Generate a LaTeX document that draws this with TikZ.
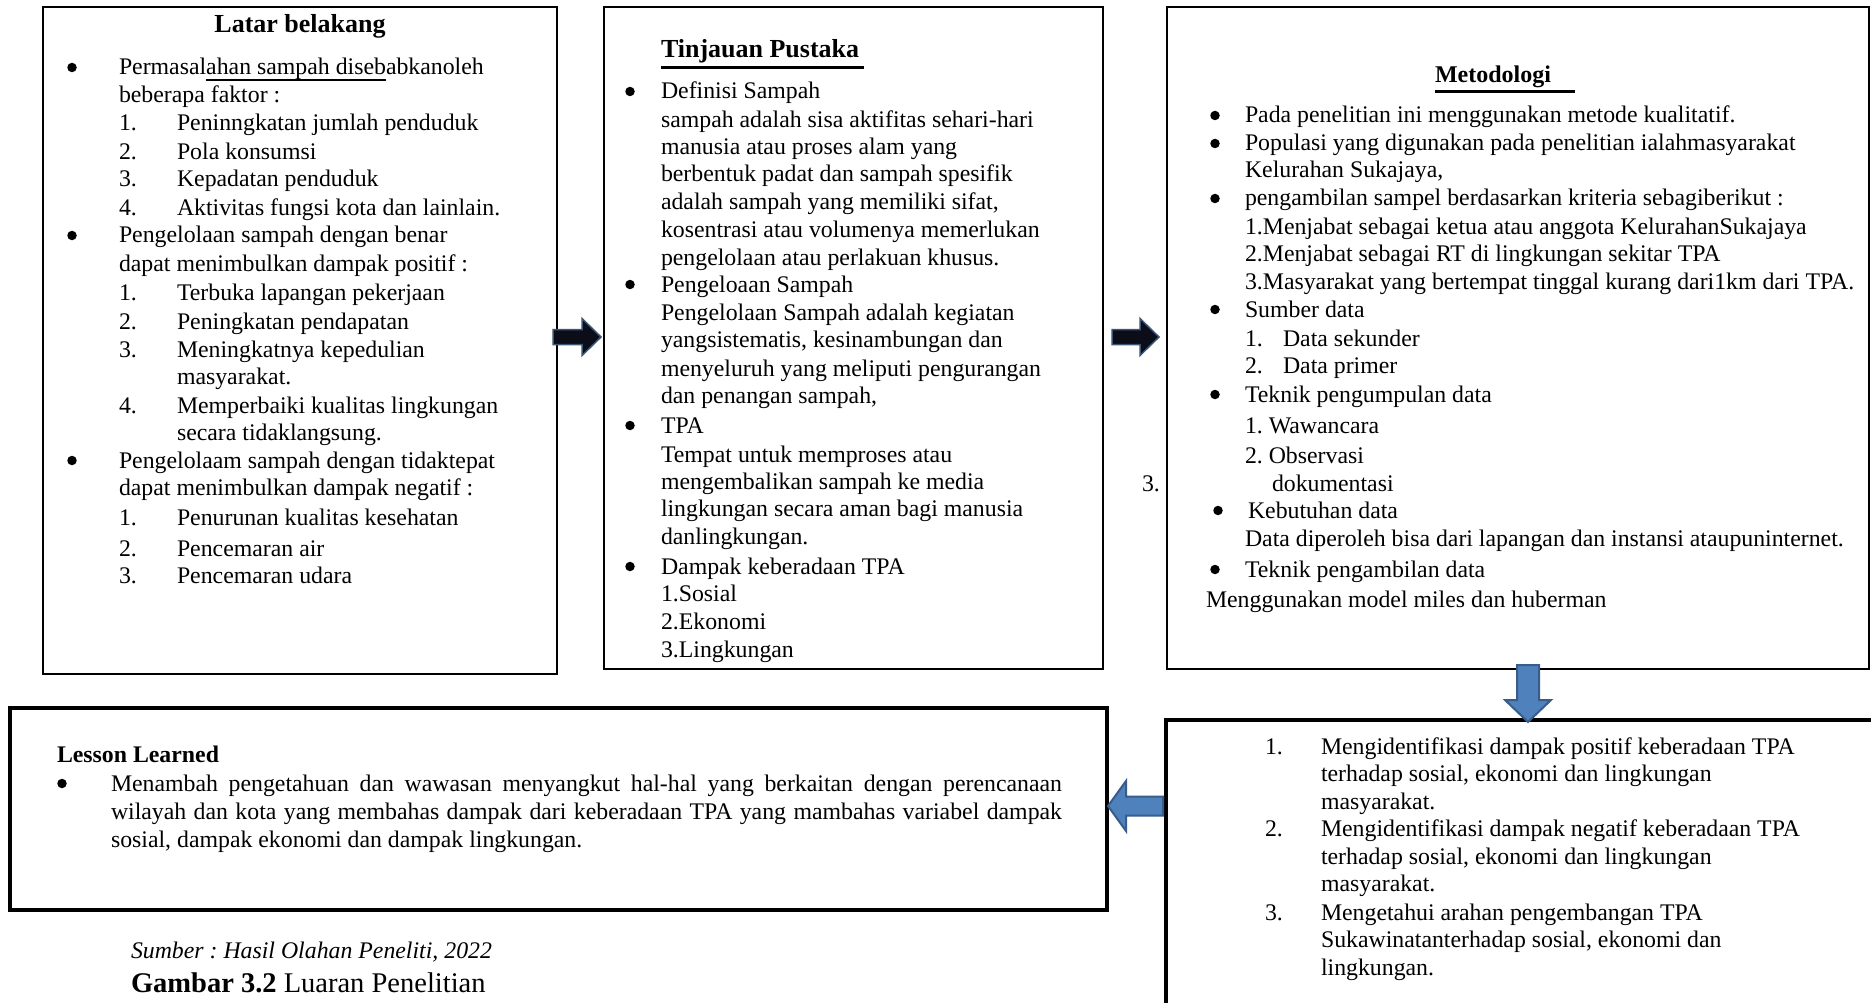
\documentclass[tikz,border=0pt]{standalone}
\usepackage{fontspec}
\setmainfont{Liberation Serif}
\usetikzlibrary{calc}
\definecolor{arrblue}{HTML}{4F81BD}
\definecolor{arrblueline}{HTML}{385D8A}
\definecolor{arrdark}{HTML}{0B0D18}
\definecolor{arrdarkline}{HTML}{3C5573}
\newcommand\ulx[1]{\setbox0\hbox{#1}\rlap{\rule[-6.25pt]{\wd0}{2.5pt}}\box0}
\newcommand\tline[4]{\node[txt] (#1) at (#2,#3) {#4};}
\newcommand\tbul[3]{\node[bul] (#1) at (#2,{#3-7.5}) {};}
\frenchspacing
\begin{document}
\begin{tikzpicture}[x=1pt,y=-1pt,
  txt/.style={anchor=base west, inner sep=0pt, outer sep=0pt, font=\fontsize{23.8pt}{28pt}\selectfont},
  ttl/.style={inner sep=0pt, outer sep=0pt, font=\fontsize{26pt}{30pt}\selectfont\bfseries},
  bul/.style={circle, fill=black, inner sep=0pt, minimum size=9.5pt},
  box/.style={draw=black, line width=2pt, anchor=north west, inner sep=0pt, outer sep=0pt},
  thickbox/.style={box, line width=4.5pt},
  darkarr/.style={fill=arrdark, draw=arrdarkline, line width=1.5pt},
  bluearr/.style={fill=arrblue, draw=arrblueline, line width=2pt},
  ulline/.style={line width=3pt}]
\useasboundingbox (0,0) rectangle (1871,1003);
\fill[white] (0,0) rectangle (1871,1003);

% boxes
\node[box, minimum width=514pt, minimum height=667pt] (b1) at (43,7) {};
\node[box, minimum width=499pt, minimum height=662pt] (b2) at (604,7) {};
\node[box, minimum width=702pt, minimum height=662pt] (b3) at (1167,7) {};
\node[thickbox, minimum width=1097pt, minimum height=202pt] (b4) at (10,708) {};
\node[thickbox, minimum width=724pt, minimum height=320pt] (b5) at (1166,720) {};

% ---------- Box 1: Latar belakang
\node[ttl, anchor=base] (t1) at (300,32.5) {Latar belakang};
\tbul{b1u1}{72}{75}
\tline{b1l1}{119}{75}{Permasal\ulx{ahan sampah diseb}abkanoleh}
\tline{b1l2}{119}{102.5}{beberapa faktor :}
\tline{b1n3}{119}{131}{1.}\tline{b1l3}{177}{131}{Peninngkatan jumlah penduduk}
\tline{b1n4}{119}{160}{2.}\tline{b1l4}{177}{160}{Pola konsumsi}
\tline{b1n5}{119}{187}{3.}\tline{b1l5}{177}{187}{Kepadatan penduduk}
\tline{b1n6}{119}{215}{4.}\tline{b1l6}{177}{215}{Aktivitas fungsi kota dan lainlain.}
\tbul{b1u7}{72}{243}
\tline{b1l7}{119}{243}{Pengelolaan sampah dengan benar}
\tline{b1l8}{119}{271}{dapat menimbulkan dampak positif :}
\tline{b1n9}{119}{300.5}{1.}\tline{b1l9}{177}{300.5}{Terbuka lapangan pekerjaan}
\tline{b1n10}{119}{329}{2.}\tline{b1l10}{177}{329}{Peningkatan pendapatan}
\tline{b1n11}{119}{357}{3.}\tline{b1l11}{177}{357}{Meningkatnya kepedulian}
\tline{b1l12}{177}{384}{masyarakat.}
\tline{b1n13}{119}{413}{4.}\tline{b1l13}{177}{413}{Memperbaiki kualitas lingkungan}
\tline{b1l14}{177}{440}{secara tidaklangsung.}
\tbul{b1u15}{72}{468}
\tline{b1l15}{119}{468}{Pengelolaam sampah dengan tidaktepat}
\tline{b1l16}{119}{495}{dapat menimbulkan dampak negatif :}
\tline{b1n17}{119}{525}{1.}\tline{b1l17}{177}{525}{Penurunan kualitas kesehatan}
\tline{b1n18}{119}{556}{2.}\tline{b1l18}{177}{556}{Pencemaran air}
\tline{b1n19}{119}{583}{3.}\tline{b1l19}{177}{583}{Pencemaran udara}

% ---------- Box 2: Tinjauan Pustaka
\node[ttl, anchor=base west] (t2) at (661,58) {Tinjauan Pustaka};
\draw[ulline] (t2.base west) ++(0,10) coordinate (t2u1) -- ++(203,0) coordinate (t2u2);
\tbul{b2u1}{630}{99}
\tline{b2l1}{661}{99}{Definisi Sampah}
\tline{b2l2}{661}{127.5}{sampah adalah sisa aktifitas sehari-hari}
\tline{b2l3}{661}{155}{manusia atau proses alam yang}
\tline{b2l4}{661}{182}{berbentuk padat dan sampah spesifik}
\tline{b2l5}{661}{210}{adalah sampah yang memiliki sifat,}
\tline{b2l6}{661}{237}{kosentrasi atau volumenya memerlukan}
\tline{b2l7}{661}{265}{pengelolaan atau perlakuan khusus.}
\tbul{b2u8}{630}{292}
\tline{b2l8}{661}{292}{Pengeloaan Sampah}
\tline{b2l9}{661}{320}{Pengelolaan Sampah adalah kegiatan}
\tline{b2l10}{661}{347}{yangsistematis, kesinambungan dan}
\tline{b2l11}{661}{376}{menyeluruh yang meliputi pengurangan}
\tline{b2l12}{661}{403}{dan penangan sampah,}
\tbul{b2u13}{630}{433}
\tline{b2l13}{661}{433}{TPA}
\tline{b2l14}{661}{462}{Tempat untuk memproses atau}
\tline{b2l15}{661}{489}{mengembalikan sampah ke media}
\tline{b2l16}{661}{516.5}{lingkungan secara aman bagi manusia}
\tline{b2l17}{661}{544}{danlingkungan.}
\tbul{b2u18}{630}{574}
\tline{b2l18}{661}{574}{Dampak keberadaan TPA}
\tline{b2l19}{661}{601}{1.Sosial}
\tline{b2l20}{661}{629}{2.Ekonomi}
\tline{b2l21}{661}{657}{3.Lingkungan}

% ---------- Box 3: Metodologi
\node[txt, font=\fontsize{24pt}{28pt}\selectfont\bfseries] (t3) at (1435,83) {Metodologi};
\draw[ulline] (t3.base west) ++(0,9) coordinate (t3u1) -- ++(140,0) coordinate (t3u2);
\tbul{b3u1}{1215}{123}
\tline{b3l1}{1245}{123}{Pada penelitian ini menggunakan metode kualitatif.}
\tbul{b3u2}{1215}{151}
\tline{b3l2}{1245}{151}{Populasi yang digunakan pada penelitian ialahmasyarakat}
\tline{b3l3}{1245}{178}{Kelurahan Sukajaya,}
\tbul{b3u4}{1215}{206}
\tline{b3l4}{1245}{206}{pengambilan sampel berdasarkan kriteria sebagiberikut :}
\tline{b3l5}{1245}{234}{1.Menjabat sebagai ketua atau anggota KelurahanSukajaya}
\tline{b3l6}{1245}{261}{2.Menjabat sebagai RT di lingkungan sekitar TPA}
\tline{b3l7}{1245}{289}{3.Masyarakat yang bertempat tinggal kurang dari1km dari TPA.}
\tbul{b3u8}{1215}{317}
\tline{b3l8}{1245}{317}{Sumber data}
\tline{b3n9}{1245}{346}{1.}\tline{b3l9}{1283}{346}{Data sekunder}
\tline{b3n10}{1245}{373}{2.}\tline{b3l10}{1283}{373}{Data primer}
\tbul{b3u11}{1215}{402}
\tline{b3l11}{1245}{402}{Teknik pengumpulan data}
\tline{b3l12}{1245}{433}{1. Wawancara}
\tline{b3l13}{1245}{463}{2. Observasi}
\tline{b3n14}{1142}{491}{3.}\tline{b3l14}{1272}{491}{dokumentasi}
\tbul{b3u15}{1218}{518}
\tline{b3l15}{1248}{518}{Kebutuhan data}
\tline{b3l16}{1245}{546}{Data diperoleh bisa dari lapangan dan instansi ataupuninternet.}
\tbul{b3u17}{1215}{577}
\tline{b3l17}{1245}{577}{Teknik pengambilan data}
\tline{b3l18}{1206}{607}{Menggunakan model miles dan huberman}

% ---------- Box 4: Lesson Learned
\node[txt, font=\fontsize{23.8pt}{28pt}\selectfont\bfseries] (t4) at (57,762) {Lesson Learned};
\tbul{b4u1}{62}{791}
\tline{b4l1}{111}{791}{\makebox[951pt][s]{Menambah pengetahuan dan wawasan menyangkut hal-hal yang berkaitan dengan perencanaan}}
\tline{b4l2}{111}{819}{\makebox[951pt][s]{wilayah dan kota yang membahas dampak dari keberadaan TPA yang mambahas variabel dampak}}
\tline{b4l3}{111}{847}{sosial, dampak ekonomi dan dampak lingkungan.}

% ---------- Box 5: objectives
\tline{b5n1}{1265}{754}{1.}\tline{b5l1}{1321}{754}{Mengidentifikasi dampak positif keberadaan TPA}
\tline{b5l2}{1321}{781}{terhadap sosial, ekonomi dan lingkungan}
\tline{b5l3}{1321}{809}{masyarakat.}
\tline{b5n4}{1265}{836}{2.}\tline{b5l4}{1321}{836}{Mengidentifikasi dampak negatif keberadaan TPA}
\tline{b5l5}{1321}{864}{terhadap sosial, ekonomi dan lingkungan}
\tline{b5l6}{1321}{891}{masyarakat.}
\tline{b5n7}{1265}{920}{3.}\tline{b5l7}{1321}{920}{Mengetahui arahan pengembangan TPA}
\tline{b5l8}{1321}{947}{Sukawinatanterhadap sosial, ekonomi dan}
\tline{b5l9}{1321}{975}{lingkungan.}

% ---------- captions
\tline{cap1}{131}{958}{\itshape Sumber : Hasil Olahan Peneliti, 2022}
\node[txt, font=\fontsize{28.5pt}{32pt}\selectfont] (cap2) at (131,992.5) {\textbf{Gambar 3.2} Luaran Penelitian};

% ---------- arrows
% b1 -> b2
\path[darkarr] let \p1=([xshift=-4pt]b1.east), \p2=([xshift=-3pt,yshift=1pt]b2.west) in
  (\x1,{\y2+7.5pt}) -- ({\x2-19pt},{\y2+7.5pt}) -- ({\x2-19pt},{\y2+18.5pt}) -- (\x2,\y2)
  -- ({\x2-19pt},{\y2-18.5pt}) -- ({\x2-19pt},{\y2-7.5pt}) -- (\x1,{\y2-7.5pt}) -- cycle;
% b2 -> b3
\path[darkarr] let \p1=([xshift=9pt]b2.east), \p2=([xshift=-8pt,yshift=1pt]b3.west) in
  (\x1,{\y2+7.5pt}) -- ({\x2-19pt},{\y2+7.5pt}) -- ({\x2-19pt},{\y2+18.5pt}) -- (\x2,\y2)
  -- ({\x2-19pt},{\y2-18.5pt}) -- ({\x2-19pt},{\y2-7.5pt}) -- (\x1,{\y2-7.5pt}) -- cycle;
% b3 -> b5
\path[bluearr] let \p1=([yshift=4pt]b3.south), \p2=([yshift=-2pt]b5.north) in
  ({\x2-11pt},\y1) -- ({\x2-11pt},{\y2+22pt}) -- ({\x2-23pt},{\y2+22pt}) -- (\x2,\y2)
  -- ({\x2+23pt},{\y2+22pt}) -- ({\x2+11pt},{\y2+22pt}) -- ({\x2+11pt},\y1) -- cycle;
% b5 -> b4
\path[bluearr] let \p1=([xshift=-3pt]b5.west), \p2=([xshift=1pt,yshift=3pt]b4.east) in
  (\x1,{\y2+9.5pt}) -- ({\x2+18pt},{\y2+9.5pt}) -- ({\x2+18pt},{\y2+25pt}) -- (\x2,\y2)
  -- ({\x2+18pt},{\y2-25pt}) -- ({\x2+18pt},{\y2-9.5pt}) -- (\x1,{\y2-9.5pt}) -- cycle;
\end{tikzpicture}
\end{document}
